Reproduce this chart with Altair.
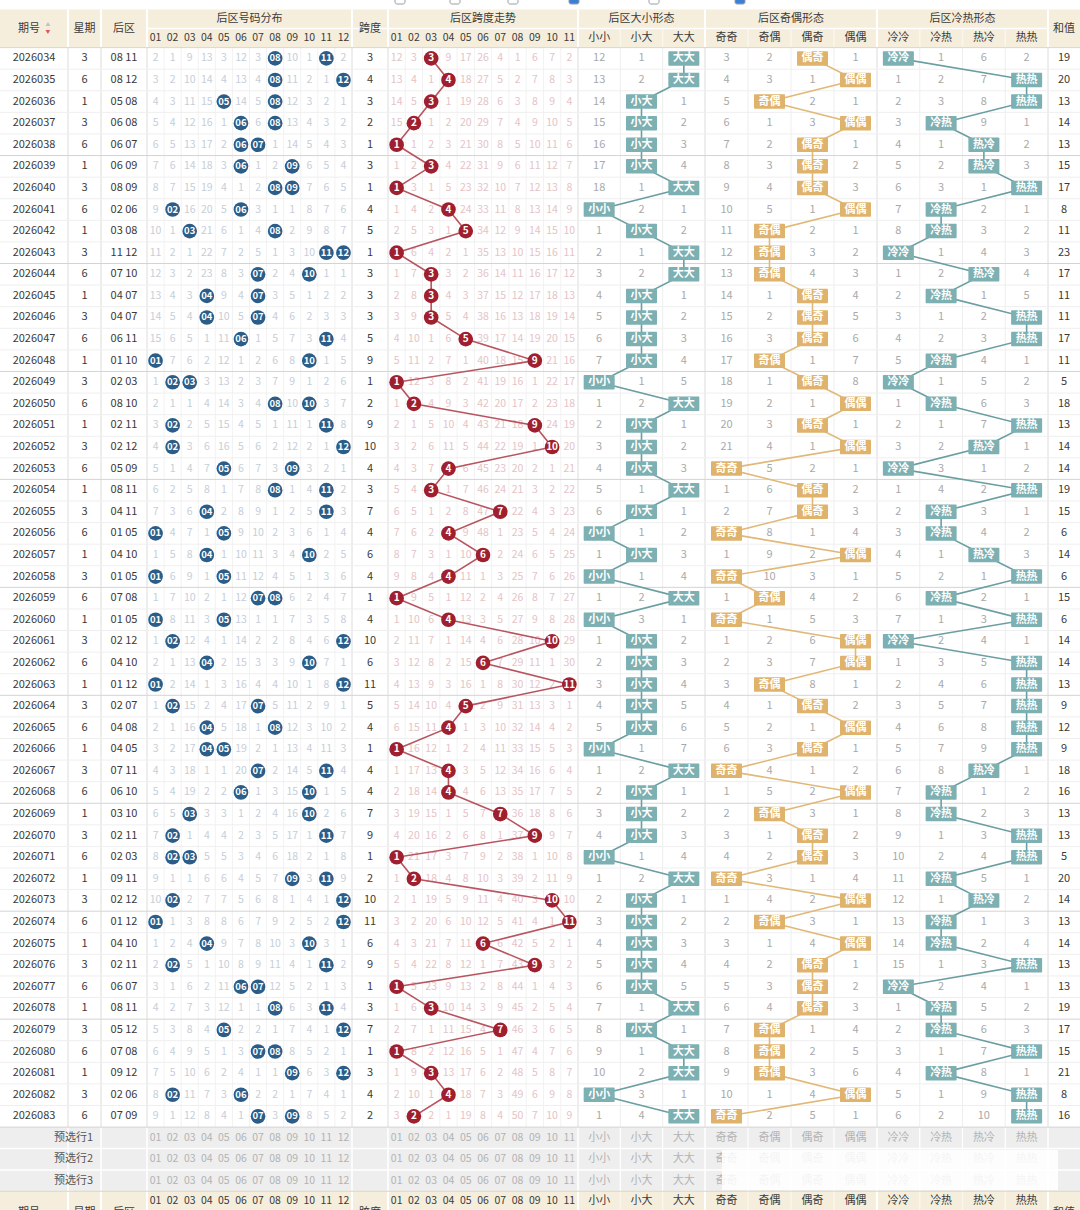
import altair as alt
import pandas as pd

# ---------------------------------------------------------------- data
ISSUES = [2026034, 2026035, 2026036, 2026037, 2026038, 2026039, 2026040, 2026041, 2026042, 2026043,
          2026044, 2026045, 2026046, 2026047, 2026048, 2026049, 2026050, 2026051, 2026052, 2026053,
          2026054, 2026055, 2026056, 2026057, 2026058, 2026059, 2026060, 2026061, 2026062, 2026063,
          2026064, 2026065, 2026066, 2026067, 2026068, 2026069, 2026070, 2026071, 2026072, 2026073,
          2026074, 2026075, 2026076, 2026077, 2026078, 2026079, 2026080, 2026081, 2026082, 2026083]
WEEKDAYS = [3, 6, 1, 3, 6, 1, 3, 6, 1, 3, 6, 1, 3, 6, 1, 3, 6, 1, 3, 6, 1, 3, 6, 1, 3,
            6, 1, 3, 6, 1, 3, 6, 1, 3, 6, 1, 3, 6, 1, 3, 6, 1, 3, 6, 1, 3, 6, 1, 3, 6]
BACK_PAIRS = [[8, 11], [8, 12], [5, 8], [6, 8], [6, 7], [6, 9], [8, 9], [2, 6], [3, 8], [11, 12],
              [7, 10], [4, 7], [4, 7], [6, 11], [1, 10], [2, 3], [8, 10], [2, 11], [2, 12], [5, 9],
              [8, 11], [4, 11], [1, 5], [4, 10], [1, 5], [7, 8], [1, 5], [2, 12], [4, 10], [1, 12],
              [2, 7], [4, 8], [4, 5], [7, 11], [6, 10], [3, 10], [2, 11], [2, 3], [9, 11], [2, 12],
              [1, 12], [4, 10], [2, 11], [6, 7], [8, 11], [5, 12], [7, 8], [9, 12], [2, 6], [7, 9]]
SPANS = [3, 4, 3, 2, 1, 3, 1, 4, 5, 1, 3, 3, 3, 5, 9, 1, 2, 9, 10, 4, 3, 7, 4, 6, 4,
         1, 4, 10, 6, 11, 5, 4, 1, 4, 4, 7, 9, 1, 2, 10, 11, 6, 9, 1, 3, 7, 1, 3, 4, 2]
SUMS = [19, 20, 13, 14, 13, 15, 17, 8, 11, 23, 17, 11, 11, 17, 11, 5, 18, 13, 14, 14, 19, 15, 6, 14, 6,
        15, 6, 14, 14, 13, 9, 12, 9, 18, 16, 13, 13, 5, 20, 14, 13, 14, 13, 13, 19, 17, 15, 21, 8, 16]

# omission counts per number column, 0 where the number was drawn
DIST_MISS = [
    [2, 1, 9, 13, 3, 12, 3, 0, 10, 1, 0, 2], [3, 2, 10, 14, 4, 13, 4, 0, 11, 2, 1, 0],
    [4, 3, 11, 15, 0, 14, 5, 0, 12, 3, 2, 1], [5, 4, 12, 16, 1, 0, 6, 0, 13, 4, 3, 2],
    [6, 5, 13, 17, 2, 0, 0, 1, 14, 5, 4, 3], [7, 6, 14, 18, 3, 0, 1, 2, 0, 6, 5, 4],
    [8, 7, 15, 19, 4, 1, 2, 0, 0, 7, 6, 5], [9, 0, 16, 20, 5, 0, 3, 1, 1, 8, 7, 6],
    [10, 1, 0, 21, 6, 1, 4, 0, 2, 9, 8, 7], [11, 2, 1, 22, 7, 2, 5, 1, 3, 10, 0, 0],
    [12, 3, 2, 23, 8, 3, 0, 2, 4, 0, 1, 1], [13, 4, 3, 0, 9, 4, 0, 3, 5, 1, 2, 2],
    [14, 5, 4, 0, 10, 5, 0, 4, 6, 2, 3, 3], [15, 6, 5, 1, 11, 0, 1, 5, 7, 3, 0, 4],
    [0, 7, 6, 2, 12, 1, 2, 6, 8, 0, 1, 5], [1, 0, 0, 3, 13, 2, 3, 7, 9, 1, 2, 6],
    [2, 1, 1, 4, 14, 3, 4, 0, 10, 0, 3, 7], [3, 0, 2, 5, 15, 4, 5, 1, 11, 1, 0, 8],
    [4, 0, 3, 6, 16, 5, 6, 2, 12, 2, 1, 0], [5, 1, 4, 7, 0, 6, 7, 3, 0, 3, 2, 1],
    [6, 2, 5, 8, 1, 7, 8, 0, 1, 4, 0, 2], [7, 3, 6, 0, 2, 8, 9, 1, 2, 5, 0, 3],
    [0, 4, 7, 1, 0, 9, 10, 2, 3, 6, 1, 4], [1, 5, 8, 0, 1, 10, 11, 3, 4, 0, 2, 5],
    [0, 6, 9, 1, 0, 11, 12, 4, 5, 1, 3, 6], [1, 7, 10, 2, 1, 12, 0, 0, 6, 2, 4, 7],
    [0, 8, 11, 3, 0, 13, 1, 1, 7, 3, 5, 8], [1, 0, 12, 4, 1, 14, 2, 2, 8, 4, 6, 0],
    [2, 1, 13, 0, 2, 15, 3, 3, 9, 0, 7, 1], [0, 2, 14, 1, 3, 16, 4, 4, 10, 1, 8, 0],
    [1, 0, 15, 2, 4, 17, 0, 5, 11, 2, 9, 1], [2, 1, 16, 0, 5, 18, 1, 0, 12, 3, 10, 2],
    [3, 2, 17, 0, 0, 19, 2, 1, 13, 4, 11, 3], [4, 3, 18, 1, 1, 20, 0, 2, 14, 5, 0, 4],
    [5, 4, 19, 2, 2, 0, 1, 3, 15, 0, 1, 5], [6, 5, 0, 3, 3, 1, 2, 4, 16, 0, 2, 6],
    [7, 0, 1, 4, 4, 2, 3, 5, 17, 1, 0, 7], [8, 0, 0, 5, 5, 3, 4, 6, 18, 2, 1, 8],
    [9, 1, 1, 6, 6, 4, 5, 7, 0, 3, 0, 9], [10, 0, 2, 7, 7, 5, 6, 8, 1, 4, 1, 0],
    [0, 1, 3, 8, 8, 6, 7, 9, 2, 5, 2, 0], [1, 2, 4, 0, 9, 7, 8, 10, 3, 0, 3, 1],
    [2, 0, 5, 1, 10, 8, 9, 11, 4, 1, 0, 2], [3, 1, 6, 2, 11, 0, 0, 12, 5, 2, 1, 3],
    [4, 2, 7, 3, 12, 1, 1, 0, 6, 3, 0, 4], [5, 3, 8, 4, 0, 2, 2, 1, 7, 4, 1, 0],
    [6, 4, 9, 5, 1, 3, 0, 0, 8, 5, 2, 1], [7, 5, 10, 6, 2, 4, 1, 1, 0, 6, 3, 0],
    [8, 0, 11, 7, 3, 0, 2, 2, 1, 7, 4, 1], [9, 1, 12, 8, 4, 1, 0, 3, 0, 8, 5, 2],
]
# omission counts per span value 1..11, 0 at the current span
TREND_MISS = [
    [12, 3, 0, 9, 17, 26, 4, 1, 6, 7, 2], [13, 4, 1, 0, 18, 27, 5, 2, 7, 8, 3],
    [14, 5, 0, 1, 19, 28, 6, 3, 8, 9, 4], [15, 0, 1, 2, 20, 29, 7, 4, 9, 10, 5],
    [0, 1, 2, 3, 21, 30, 8, 5, 10, 11, 6], [1, 2, 0, 4, 22, 31, 9, 6, 11, 12, 7],
    [0, 3, 1, 5, 23, 32, 10, 7, 12, 13, 8], [1, 4, 2, 0, 24, 33, 11, 8, 13, 14, 9],
    [2, 5, 3, 1, 0, 34, 12, 9, 14, 15, 10], [0, 6, 4, 2, 1, 35, 13, 10, 15, 16, 11],
    [1, 7, 0, 3, 2, 36, 14, 11, 16, 17, 12], [2, 8, 0, 4, 3, 37, 15, 12, 17, 18, 13],
    [3, 9, 0, 5, 4, 38, 16, 13, 18, 19, 14], [4, 10, 1, 6, 0, 39, 17, 14, 19, 20, 15],
    [5, 11, 2, 7, 1, 40, 18, 15, 0, 21, 16], [0, 12, 3, 8, 2, 41, 19, 16, 1, 22, 17],
    [1, 0, 4, 9, 3, 42, 20, 17, 2, 23, 18], [2, 1, 5, 10, 4, 43, 21, 18, 0, 24, 19],
    [3, 2, 6, 11, 5, 44, 22, 19, 1, 0, 20], [4, 3, 7, 0, 6, 45, 23, 20, 2, 1, 21],
    [5, 4, 0, 1, 7, 46, 24, 21, 3, 2, 22], [6, 5, 1, 2, 8, 47, 0, 22, 4, 3, 23],
    [7, 6, 2, 0, 9, 48, 1, 23, 5, 4, 24], [8, 7, 3, 1, 10, 0, 2, 24, 6, 5, 25],
    [9, 8, 4, 0, 11, 1, 3, 25, 7, 6, 26], [0, 9, 5, 1, 12, 2, 4, 26, 8, 7, 27],
    [1, 10, 6, 0, 13, 3, 5, 27, 9, 8, 28], [2, 11, 7, 1, 14, 4, 6, 28, 10, 0, 29],
    [3, 12, 8, 2, 15, 0, 7, 29, 11, 1, 30], [4, 13, 9, 3, 16, 1, 8, 30, 12, 2, 0],
    [5, 14, 10, 4, 0, 2, 9, 31, 13, 3, 1], [6, 15, 11, 0, 1, 3, 10, 32, 14, 4, 2],
    [0, 16, 12, 1, 2, 4, 11, 33, 15, 5, 3], [1, 17, 13, 0, 3, 5, 12, 34, 16, 6, 4],
    [2, 18, 14, 0, 4, 6, 13, 35, 17, 7, 5], [3, 19, 15, 1, 5, 7, 0, 36, 18, 8, 6],
    [4, 20, 16, 2, 6, 8, 1, 37, 0, 9, 7], [0, 21, 17, 3, 7, 9, 2, 38, 1, 10, 8],
    [1, 0, 18, 4, 8, 10, 3, 39, 2, 11, 9], [2, 1, 19, 5, 9, 11, 4, 40, 3, 0, 10],
    [3, 2, 20, 6, 10, 12, 5, 41, 4, 1, 0], [4, 3, 21, 7, 11, 0, 6, 42, 5, 2, 1],
    [5, 4, 22, 8, 12, 1, 7, 43, 0, 3, 2], [0, 5, 23, 9, 13, 2, 8, 44, 1, 4, 3],
    [1, 6, 0, 10, 14, 3, 9, 45, 2, 5, 4], [2, 7, 1, 11, 15, 4, 0, 46, 3, 6, 5],
    [0, 8, 2, 12, 16, 5, 1, 47, 4, 7, 6], [1, 9, 0, 13, 17, 6, 2, 48, 5, 8, 7],
    [2, 10, 1, 0, 18, 7, 3, 49, 6, 9, 8], [3, 0, 2, 1, 19, 8, 4, 50, 7, 10, 9],
]
# pattern omission tables, 0 marks the pattern of the draw
SIZE_MISS = [
    [12, 1, 0], [13, 2, 0], [14, 0, 1], [15, 0, 2], [16, 0, 3], [17, 0, 4], [18, 1, 0], [0, 2, 1],
    [1, 0, 2], [2, 1, 0], [3, 2, 0], [4, 0, 1], [5, 0, 2], [6, 0, 3], [7, 0, 4], [0, 1, 5],
    [1, 2, 0], [2, 0, 1], [3, 0, 2], [4, 0, 3], [5, 1, 0], [6, 0, 1], [0, 1, 2], [1, 0, 3],
    [0, 1, 4], [1, 2, 0], [0, 3, 1], [1, 0, 2], [2, 0, 3], [3, 0, 4], [4, 0, 5], [5, 0, 6],
    [0, 1, 7], [1, 2, 0], [2, 0, 1], [3, 0, 2], [4, 0, 3], [0, 1, 4], [1, 2, 0], [2, 0, 1],
    [3, 0, 2], [4, 0, 3], [5, 0, 4], [6, 0, 5], [7, 1, 0], [8, 0, 1], [9, 1, 0], [10, 2, 0],
    [0, 3, 1], [1, 4, 0],
]
OE_MISS = [
    [3, 2, 0, 1], [4, 3, 1, 0], [5, 0, 2, 1], [6, 1, 3, 0], [7, 2, 0, 1], [8, 3, 0, 2],
    [9, 4, 0, 3], [10, 5, 1, 0], [11, 0, 2, 1], [12, 0, 3, 2], [13, 0, 4, 3], [14, 1, 0, 4],
    [15, 2, 0, 5], [16, 3, 0, 6], [17, 0, 1, 7], [18, 1, 0, 8], [19, 2, 1, 0], [20, 3, 0, 1],
    [21, 4, 1, 0], [0, 5, 2, 1], [1, 6, 0, 2], [2, 7, 0, 3], [0, 8, 1, 4], [1, 9, 2, 0],
    [0, 10, 3, 1], [1, 0, 4, 2], [0, 1, 5, 3], [1, 2, 6, 0], [2, 3, 7, 0], [3, 0, 8, 1],
    [4, 1, 0, 2], [5, 2, 1, 0], [6, 3, 0, 1], [0, 4, 1, 2], [1, 5, 2, 0], [2, 0, 3, 1],
    [3, 1, 0, 2], [4, 2, 0, 3], [0, 3, 1, 4], [1, 4, 2, 0], [2, 0, 3, 1], [3, 1, 4, 0],
    [4, 2, 0, 1], [5, 3, 0, 2], [6, 4, 0, 3], [7, 0, 1, 4], [8, 0, 2, 5], [9, 0, 3, 6],
    [10, 1, 4, 0], [0, 2, 5, 1],
]
HC_MISS = [
    [0, 1, 6, 2], [1, 2, 7, 0], [2, 3, 8, 0], [3, 0, 9, 1], [4, 1, 0, 2], [5, 2, 0, 3],
    [6, 3, 1, 0], [7, 0, 2, 1], [8, 0, 3, 2], [0, 1, 4, 3], [1, 2, 0, 4], [2, 0, 1, 5],
    [3, 1, 2, 0], [4, 2, 3, 0], [5, 0, 4, 1], [0, 1, 5, 2], [1, 0, 6, 3], [2, 1, 7, 0],
    [3, 2, 0, 1], [0, 3, 1, 2], [1, 4, 2, 0], [2, 0, 3, 1], [3, 0, 4, 2], [4, 1, 0, 3],
    [5, 2, 1, 0], [6, 0, 2, 1], [7, 1, 3, 0], [0, 2, 4, 1], [1, 3, 5, 0], [2, 4, 6, 0],
    [3, 5, 7, 0], [4, 6, 8, 0], [5, 7, 9, 0], [6, 8, 0, 1], [7, 0, 1, 2], [8, 0, 2, 3],
    [9, 1, 3, 0], [10, 2, 4, 0], [11, 0, 5, 1], [12, 1, 0, 2], [13, 0, 1, 3], [14, 0, 2, 4],
    [15, 1, 3, 0], [0, 2, 4, 1], [1, 0, 5, 2], [2, 0, 6, 3], [3, 1, 7, 0], [4, 0, 8, 1],
    [5, 1, 9, 0], [6, 2, 10, 0],
]

DIST_LABELS = ["01", "02", "03", "04", "05", "06", "07", "08", "09", "10", "11", "12"]
TREND_LABELS = ["01", "02", "03", "04", "05", "06", "07", "08", "09", "10", "11"]
SIZE_LABELS = ["小小", "小大", "大大"]
OE_LABELS = ["奇奇", "奇偶", "偶奇", "偶偶"]
HC_LABELS = ["冷冷", "冷热", "热冷", "热热"]
GROUP_TITLES = {"dist": "后区号码分布", "trend": "后区跨度走势", "size": "后区大小形态",
                "oe": "后区奇偶形态", "hc": "后区冷热形态"}
SINGLE_TITLES = {"week": "星期", "back": "后区", "span": "跨度", "sum": "和值"}
PRESET_ROWS = ["预选行1", "预选行2", "预选行3"]

# ---------------------------------------------------------------- layout / style
FONT = "Noto Sans CJK SC"
W, H = 1080, 1210
SECTIONS = [("issue", 1, 68), ("week", 1, 33), ("back", 1, 46), ("dist", 12, 205),
            ("span", 1, 36), ("trend", 11, 190), ("size", 3, 127), ("oe", 4, 172),
            ("hc", 4, 171), ("sum", 1, 32)]
LEFT = {}
_pos = 0.0
for _k, _n, _w in SECTIONS:
    LEFT[_k] = (_pos, _n, _w)
    _pos += _w


def cx(key, j=0):
    left, n, w = LEFT[key]
    return left + (j + 0.5) * w / n


HEAD_TOP, HEAD_MID, HEAD_BOT = 9.5, 28.5, 47.6
ROW_H = 21.59
PRE_H = 21.4
BODY_BOT = HEAD_BOT + len(ISSUES) * ROW_H
FOOT_TOP = BODY_BOT + 3 * PRE_H


def ry(i):
    return HEAD_BOT + (i + 0.5) * ROW_H


HEAD_BG = "#f6eedc"
PRE_BG = "#eeeeee"
DARK = "#3a3a3a"
DIST_C = "#c6ced8"
TREND_C = "#e5c3c6"
FORM_C = "#a9a9a9"
BLUE = "#2b5d88"
RED = "#a01f2e"
RED_LINE = "#b8545f"
TEAL = "#7cb0b2"
TEAL_LINE = "#6a9ea1"
GOLD = "#e0b36c"
GOLD_LINE = "#e0b877"
BOX_W, BOX_H = 31, 14.5

rects, rules, texts, bold, circles, boxes, lines, checks = [], [], [], [], [], [], [], []


def T(lst, x, y, t, c, s):
    lst.append(dict(x=x, y=y, text=str(t), c=c, s=s))


def hr(x, x2, y, c, w=1.0):
    rules.append(dict(x=x, x2=x2, y=y, y2=y, c=c, w=w))


def vr(x, y, y2, c, w=1.0):
    rules.append(dict(x=x, x2=x, y=y, y2=y2, c=c, w=w))


# backgrounds
rects.append(dict(x=0, x2=W, y=HEAD_TOP, y2=HEAD_BOT, c=HEAD_BG))
rects.append(dict(x=0, x2=W, y=BODY_BOT, y2=FOOT_TOP, c=PRE_BG))
rects.append(dict(x=0, x2=W, y=FOOT_TOP, y2=H + 30, c=HEAD_BG))

# grid: vertical
grouped = ["dist", "trend", "size", "oe", "hc"]
for key, n, w in SECTIONS[1:]:
    left = LEFT[key][0]
    vr(left, HEAD_TOP, HEAD_BOT, "#ffffff", 2)
    vr(left, HEAD_BOT, BODY_BOT, "#dcdcdc")
    vr(left, BODY_BOT, FOOT_TOP, "#ffffff", 1.5)
    vr(left, FOOT_TOP, H + 30, "#ffffff", 2)
for key in grouped:
    left, n, w = LEFT[key]
    inner = "#eeeeee" if key in ("size", "oe", "hc") else "#f2f2f2"
    for k in range(1, n):
        xk = left + k * w / n
        vr(xk, HEAD_BOT, BODY_BOT, inner)
        if key in ("size", "oe", "hc"):
            vr(xk, HEAD_MID, HEAD_BOT, "#fbf6ec", 1.5)
            vr(xk, BODY_BOT, FOOT_TOP, "#ffffff", 1.2)
            vr(xk, FOOT_TOP, H + 30, "#fbf6ec", 1.5)
# grid: horizontal
hr(LEFT["dist"][0], LEFT["sum"][0], HEAD_MID, "#ffffff", 1.5)
hr(0, W, HEAD_BOT, "#e2d6bf")
for i in range(1, len(ISSUES)):
    yb = HEAD_BOT + i * ROW_H
    hr(0, W, yb, "#d4d4d4" if i % 5 == 0 else "#efefef")
hr(0, W, BODY_BOT, "#d4d4d4")
for k in range(1, 3):
    hr(0, W, BODY_BOT + k * PRE_H, "#ffffff", 1.5)
hr(0, W, FOOT_TOP, "#e2d6bf")

# header texts
ymid = (HEAD_TOP + HEAD_BOT) / 2
T(texts, 29, ymid, "期号", DARK, 11)
T(texts, 48, ymid - 3.2, "▲", "#c0c0c0", 4.8)
T(texts, 48, ymid + 3.2, "▼", "#e0545c", 4.8)
for key, title in SINGLE_TITLES.items():
    T(texts, cx(key), ymid, title, DARK, 11)
ytitle = (HEAD_TOP + HEAD_MID) / 2
ysub = (HEAD_MID + HEAD_BOT) / 2
for key, title in GROUP_TITLES.items():
    left, n, w = LEFT[key]
    T(texts, left + w / 2, ytitle, title, DARK, 11)
SUBS = {"dist": DIST_LABELS, "trend": TREND_LABELS, "size": SIZE_LABELS,
        "oe": OE_LABELS, "hc": HC_LABELS}
for key, labels in SUBS.items():
    fs = 10.5 if key in ("dist", "trend") else 11
    for j, lab in enumerate(labels):
        T(texts, cx(key, j), ysub, lab, DARK, fs)

# body rows
FORMS = [("size", SIZE_MISS, SIZE_LABELS, TEAL, TEAL_LINE),
         ("oe", OE_MISS, OE_LABELS, GOLD, GOLD_LINE),
         ("hc", HC_MISS, HC_LABELS, TEAL, TEAL_LINE)]
for i, issue in enumerate(ISSUES):
    y = ry(i)
    T(texts, cx("issue"), y, issue, DARK, 11)
    T(texts, cx("week"), y, WEEKDAYS[i], DARK, 11)
    a, b = BACK_PAIRS[i]
    T(texts, cx("back"), y, f"{a:02d} {b:02d}", DARK, 11)
    T(texts, cx("span"), y, SPANS[i], DARK, 11)
    T(texts, cx("sum"), y, SUMS[i], DARK, 11)
    for j, v in enumerate(DIST_MISS[i]):
        if v > 0:
            T(texts, cx("dist", j), y, v, DIST_C, 10.5)
    for num in (a, b):
        circles.append(dict(x=cx("dist", num - 1), y=y, c=BLUE, s=215))
        T(bold, cx("dist", num - 1), y, f"{num:02d}", "#ffffff", 9.5)
    for j, v in enumerate(TREND_MISS[i]):
        if v > 0:
            T(texts, cx("trend", j), y, v, TREND_C, 10.5)
    sx = cx("trend", SPANS[i] - 1)
    circles.append(dict(x=sx, y=y, c=RED, s=215))
    T(bold, sx, y, SPANS[i], "#ffffff", 10)
    lines.append(dict(x=sx, y=y, g="trend", o=i, c=RED_LINE))
    for key, table, labels, fill, lc in FORMS:
        for j, v in enumerate(table[i]):
            xj = cx(key, j)
            if v > 0:
                T(texts, xj, y, v, FORM_C, 11)
            else:
                boxes.append(dict(x=xj - BOX_W / 2, x2=xj + BOX_W / 2,
                                  y=y - BOX_H / 2, y2=y + BOX_H / 2, c=fill))
                T(bold, xj, y, labels[j], "#ffffff", 11)
                lines.append(dict(x=xj, y=y, g=key, o=i, c=lc))

# preset rows
for k, name in enumerate(PRESET_ROWS):
    y = BODY_BOT + (k + 0.5) * PRE_H
    T(texts, LEFT["dist"][0] / 2, y, name, "#555555", 11)
    for key, labels in SUBS.items():
        fs = 10.5 if key in ("dist", "trend") else 11
        for j, lab in enumerate(labels):
            T(texts, cx(key, j), y, lab, "#b3b3b3", fs)

# footer header (repeated at the bottom)
yf = FOOT_TOP + 9.8
for key, labels in SUBS.items():
    fs = 10.5 if key in ("dist", "trend") else 11
    for j, lab in enumerate(labels):
        T(texts, cx(key, j), yf, lab, DARK, fs)
yf2 = FOOT_TOP + 21.5
T(texts, 29, yf2, "期号", DARK, 11)
for key, title in SINGLE_TITLES.items():
    T(texts, cx(key), yf2, title, DARK, 11)

# filter toggles peeking in at the top edge
for xc, on in [(400, False), (455, False), (513, False), (574, True), (654, False), (740, True)]:
    checks.append(dict(x=xc - 5, x2=xc + 5, y=-6, y2=4, c="#3d7fd4" if on else "#ffffff"))

# ---------------------------------------------------------------- chart
XS = alt.Scale(domain=[0, W], range=[0, W], nice=False, zero=False)
YS = alt.Scale(domain=[0, H], range=[0, H], nice=False, zero=False)


def ex():
    return alt.X("x:Q", scale=XS, axis=None)


def ey():
    return alt.Y("y:Q", scale=YS, axis=None)


def rect_chart(rows, **mk):
    return alt.Chart(pd.DataFrame(rows)).mark_rect(**mk).encode(
        x=ex(), x2="x2:Q", y=ey(), y2="y2:Q", color=alt.Color("c:N", scale=None))


def text_chart(rows, **mk):
    return alt.Chart(pd.DataFrame(rows)).mark_text(
        font=FONT, align="center", baseline="middle", **mk).encode(
        x=ex(), y=ey(), text="text:N", color=alt.Color("c:N", scale=None),
        size=alt.Size("s:Q", scale=None))


bg = rect_chart(rects)
grid = alt.Chart(pd.DataFrame(rules)).mark_rule().encode(
    x=ex(), x2="x2:Q", y=ey(), y2="y2:Q", color=alt.Color("c:N", scale=None),
    strokeWidth=alt.StrokeWidth("w:Q", scale=None))
plain = text_chart(texts)
trend_lines = alt.Chart(pd.DataFrame(lines)).mark_line(strokeWidth=1.6).encode(
    x=ex(), y=ey(), detail="g:N", order="o:Q", color=alt.Color("c:N", scale=None))
dots = alt.Chart(pd.DataFrame(circles)).mark_circle(opacity=1).encode(
    x=ex(), y=ey(), color=alt.Color("c:N", scale=None), size=alt.Size("s:Q", scale=None))
form_boxes = rect_chart(boxes, cornerRadius=1)
marks_text = text_chart(bold, fontWeight="bold")
veil = rect_chart([dict(x=722, x2=1058, y=1150, y2=1190, c="#ffffff")], opacity=0.85)
toggles = rect_chart(checks, stroke="#9aa0a6", strokeWidth=1, cornerRadius=2)

chart = alt.layer(bg, grid, plain, trend_lines, dots, form_boxes, marks_text, veil, toggles).properties(
    width=W, height=H, padding=0, background="white",
    autosize=alt.AutoSizeParams(type="none"),
).configure_view(stroke=None)

chart.save("out.html", embed_options={"renderer": "svg", "actions": False})
